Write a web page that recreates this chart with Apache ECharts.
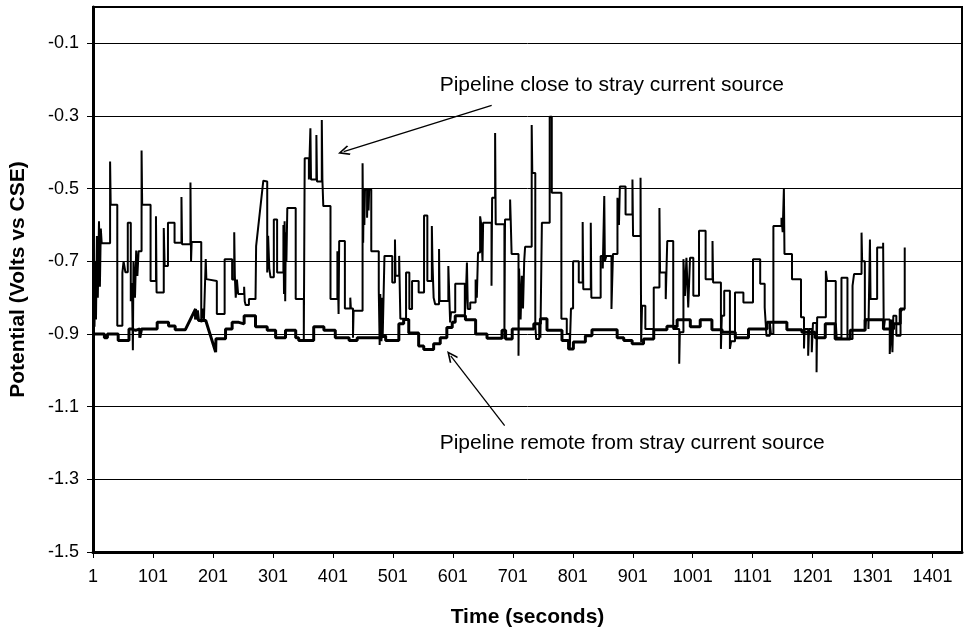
<!DOCTYPE html>
<html>
<head>
<meta charset="utf-8">
<title>Pipeline potential vs time</title>
<script src="https://cdn.jsdelivr.net/npm/echarts@6/dist/echarts.min.js"></script>
<style>
  html, body { margin: 0; padding: 0; background: #fff; }
  #chart { width: 966px; height: 633px; }
</style>
</head>
<body>
<div id="chart"></div>
<script>
// Time axis ticks (seconds) and potential axis ticks (V vs CSE)
const timeTicks = [1, 101, 201, 301, 401, 501, 601, 701, 801, 901, 1001, 1101, 1201, 1301, 1401];
const potentialTicks = [-1.5, -1.3, -1.1, -0.9, -0.7, -0.5, -0.3, -0.1];

// Pipeline close to the stray current source: [time, potential]
const closeSource = [
  [1,-0.90],[2.5,-0.90],[2.5,-0.67],[3.5,-0.67],[3.5,-0.88],[5,-0.88],[5,-0.70],[6,-0.70],[6,-0.86],[7.5,-0.86],
  [7.5,-0.63],[9,-0.63],[9,-0.80],[11,-0.80],[11,-0.59],[12.5,-0.59],[12.5,-0.77],[14,-0.77],[14,-0.61],[15.5,-0.61],
  [15.5,-0.65],[29.5,-0.65],[29.5,-0.425],[30.5,-0.425],[30.5,-0.544],[41.5,-0.544],[41.5,-0.877],[50,-0.877],[50,-0.731],[52,-0.731],
  [52,-0.70],[55,-0.70],[55,-0.73],[59,-0.73],[59,-0.594],[64,-0.594],[64,-0.81],[66,-0.81],[66,-0.76],[67.5,-0.76],
  [67.5,-0.945],[68.5,-0.945],[68.5,-0.70],[71,-0.70],[71,-0.80],[73,-0.80],[73,-0.67],[75,-0.67],[75,-0.74],[77,-0.74],
  [77,-0.672],[82,-0.672],[82,-0.395],[83,-0.395],[83,-0.544],[97,-0.544],[97,-0.754],[106,-0.754],[106,-0.576],[107,-0.576],
  [107,-0.786],[119,-0.786],[119,-0.608],[120.5,-0.608],[120.5,-0.713],[126,-0.713],[126,-0.594],[137,-0.594],[137,-0.649],[148.5,-0.649],
  [148.5,-0.523],[149.5,-0.523],[149.5,-0.653],[163.5,-0.653],[163.5,-0.483],[164.5,-0.483],[164.5,-0.70],[165.5,-0.70],[165.5,-0.647],[181.5,-0.647],
  [181.5,-0.868],[184,-0.868],[184,-0.83],[186,-0.83],[186,-0.86],[189,-0.86],[189,-0.694],[190,-0.694],[190,-0.749],[193,-0.749],
  [193,-0.754],[207.5,-0.754],[207.5,-0.845],[220.5,-0.845],[220.5,-0.694],[233,-0.694],[233,-0.75],[236.5,-0.75],[236.5,-0.62],[237.5,-0.62],
  [237.5,-0.74],[239,-0.74],[239,-0.80],[241,-0.80],[241,-0.75],[243,-0.75],[243,-0.79],[253,-0.79],[253,-0.77],[254,-0.77],
  [254,-0.81],[255.5,-0.81],[255.5,-0.82],[261,-0.82],[261,-0.804],[272,-0.804],[273,-0.658],[285,-0.478],[291.5,-0.48],[291.5,-0.731],
  [293,-0.731],[293,-0.63],[295,-0.63],[295,-0.72],[297,-0.72],[297,-0.744],[302.5,-0.744],[302.5,-0.585],[308,-0.585],[308,-0.731],
  [318.5,-0.731],[318.5,-0.60],[319.5,-0.60],[319.5,-0.79],[320.5,-0.79],[320.5,-0.59],[321.5,-0.59],[321.5,-0.81],[322.5,-0.81],[322.5,-0.62],
  [323.5,-0.62],[323.5,-0.70],[325,-0.70],[325,-0.553],[339,-0.553],[339,-0.804],[352.5,-0.804],[352.5,-0.918],[354,-0.918],[354,-0.416],
  [361,-0.416],[361,-0.475],[363.5,-0.475],[363.5,-0.334],[364.5,-0.334],[364.5,-0.475],[373.5,-0.475],[373.5,-0.352],[374.5,-0.352],[374.5,-0.48],
  [382.5,-0.48],[382.5,-0.311],[383.5,-0.311],[383.5,-0.475],[385,-0.475],[385,-0.548],[397,-0.548],[397,-0.804],[408.5,-0.804],[408.5,-0.672],
  [410.5,-0.672],[410.5,-0.845],[411.5,-0.845],[411.5,-0.644],[421,-0.644],[421,-0.83],[430,-0.83],[430,-0.80],[431,-0.80],[431,-0.83],
  [434.5,-0.83],[434.5,-0.91],[435.5,-0.91],[435.5,-0.836],[450.5,-0.836],[450.5,-0.43],[451.5,-0.43],[451.5,-0.649],[452.5,-0.649],[452.5,-0.50],
  [453.5,-0.50],[453.5,-0.60],[454.5,-0.60],[454.5,-0.502],[458,-0.502],[458,-0.58],[459,-0.58],[459,-0.50],[460.5,-0.50],[460.5,-0.56],
  [461.5,-0.56],[461.5,-0.502],[465,-0.502],[465,-0.672],[477.5,-0.672],[477.5,-0.78],[479,-0.78],[479,-0.93],[480,-0.93],[480,-0.79],
  [482,-0.79],[482,-0.92],[483,-0.92],[483,-0.80],[484,-0.80],[484,-0.91],[487,-0.91],[487,-0.685],[500,-0.685],[500,-0.758],
  [504.5,-0.758],[504.5,-0.64],[505.5,-0.64],[505.5,-0.74],[511.5,-0.74],[511.5,-0.685],[513.5,-0.685],[513.5,-0.858],[523,-0.858],[523,-0.731],
  [528.5,-0.731],[528.5,-0.831],[533,-0.831],[533,-0.754],[544,-0.754],[544,-0.786],[553,-0.786],[553,-0.574],[558.5,-0.574],[558.5,-0.754],
  [566,-0.754],[566,-0.603],[567,-0.603],[567,-0.70],[569,-0.70],[569,-0.80],[571.5,-0.80],[571.5,-0.818],[578,-0.818],[578,-0.666],
  [579,-0.666],[579,-0.809],[593.5,-0.809],[593.5,-0.713],[596.5,-0.713],[596.5,-0.868],[598,-0.868],[598,-0.84],[605,-0.84],[605,-0.762],
  [621,-0.762],[621,-0.85],[623,-0.85],[623,-0.78],[624.5,-0.78],[624.5,-0.703],[626,-0.703],[626,-0.831],[630,-0.831],[630,-0.813],
  [639,-0.813],[639,-0.75],[641,-0.75],[641,-0.80],[643,-0.80],[643,-0.676],[646.5,-0.676],[646.5,-0.576],[648,-0.576],[648,-0.594],
  [650.5,-0.594],[650.5,-0.70],[651.5,-0.70],[651.5,-0.594],[665.5,-0.594],[665.5,-0.767],[666.5,-0.767],[666.5,-0.525],[671.5,-0.525],[671.5,-0.347],
  [672.5,-0.347],[672.5,-0.598],[687,-0.598],[687,-0.914],[688,-0.914],[688,-0.585],[696.5,-0.585],[696.5,-0.53],[697.5,-0.53],[697.5,-0.585],
  [699,-0.585],[699,-0.68],[710.5,-0.68],[710.5,-0.96],[711.5,-0.96],[711.5,-0.72],[714,-0.72],[714,-0.86],[716,-0.86],[716,-0.74],
  [718,-0.74],[718,-0.83],[720,-0.83],[720,-0.70],[721.5,-0.70],[721.5,-0.66],[732.5,-0.66],[732.5,-0.325],[733.5,-0.325],[733.5,-0.457],
  [738.5,-0.457],[738.5,-0.877],[740,-0.877],[740,-0.914],[745,-0.914],[745,-0.87],[747,-0.87],[747,-0.91],[749.5,-0.91],[749.5,-0.594],
  [762.5,-0.594],[762.5,-0.302],[766,-0.302],[766,-0.511],[782,-0.511],[782,-0.858],[791,-0.858],[791,-0.90],[796,-0.90],[796,-0.941],
  [798,-0.941],[798,-0.83],[801.5,-0.83],[801.5,-0.70],[811,-0.70],[811,-0.758],[817.5,-0.758],[817.5,-0.592],[818.5,-0.592],[818.5,-0.777],
  [831,-0.777],[831,-0.594],[832,-0.594],[832,-0.80],[847.5,-0.80],[847.5,-0.685],[851,-0.685],[851,-0.72],[853.5,-0.72],[853.5,-0.52],
  [854.5,-0.52],[854.5,-0.70],[857,-0.70],[857,-0.685],[865.5,-0.685],[865.5,-0.831],[868,-0.831],[868,-0.68],[875.5,-0.68],[875.5,-0.525],
  [878,-0.525],[878,-0.60],[879.5,-0.60],[879.5,-0.494],[889,-0.494],[889,-0.571],[900.5,-0.571],[900.5,-0.475],[901.5,-0.475],[901.5,-0.63],
  [914,-0.63],[914,-0.47],[915,-0.47],[915,-0.922],[916.5,-0.922],[916.5,-0.822],[922,-0.822],[922,-0.886],[936,-0.886],[936,-0.772],
  [945.5,-0.772],[945.5,-0.553],[946.5,-0.553],[946.5,-0.731],[956,-0.731],[956,-0.804],[958.5,-0.804],[958.5,-0.644],[968.5,-0.644],[968.5,-0.886],
  [978.5,-0.886],[978.5,-0.982],[979.5,-0.982],[979.5,-0.895],[985.5,-0.895],[985.5,-0.694],[988,-0.694],[988,-0.795],[990.5,-0.795],[990.5,-0.69],
  [993.5,-0.69],[993.5,-0.827],[996.5,-0.827],[996.5,-0.69],[1002,-0.69],[1002,-0.795],[1011.5,-0.795],[1011.5,-0.616],[1022.5,-0.616],[1022.5,-0.749],
  [1034,-0.749],[1034,-0.644],[1035,-0.644],[1035,-0.758],[1048,-0.758],[1048,-0.941],[1049.5,-0.941],[1049.5,-0.85],[1053.5,-0.85],[1053.5,-0.781],
  [1063,-0.781],[1063,-0.941],[1065,-0.941],[1065,-0.92],[1071.5,-0.92],[1071.5,-0.786],[1085.5,-0.786],[1085.5,-0.813],[1101.5,-0.813],[1101.5,-0.694],
  [1113.5,-0.694],[1113.5,-0.762],[1121,-0.762],[1121,-0.827],[1124,-0.827],[1124,-0.905],[1129.5,-0.905],[1129.5,-0.868],[1131.5,-0.868],[1131.5,-0.90],
  [1135.5,-0.90],[1135.5,-0.603],[1149,-0.603],[1149,-0.58],[1151,-0.58],[1151,-0.62],[1153,-0.62],[1153,-0.50],[1154,-0.50],[1154,-0.68],
  [1166.5,-0.68],[1166.5,-0.749],[1181.5,-0.749],[1181.5,-0.854],[1186.5,-0.854],[1186.5,-0.94],[1187.5,-0.94],[1187.5,-0.886],[1193.5,-0.886],[1193.5,-0.96],
  [1195,-0.96],[1195,-0.886],[1199.5,-0.886],[1199.5,-0.95],[1201.5,-0.95],[1201.5,-0.87],[1207.5,-0.87],[1207.5,-1.005],[1208.5,-1.005],[1208.5,-0.854],
  [1223,-0.854],[1223,-0.726],[1225,-0.726],[1225,-0.754],[1239.5,-0.754],[1239.5,-0.868],[1241,-0.868],[1241,-0.91],[1249,-0.91],[1249,-0.745],
  [1259,-0.745],[1259,-0.914],[1267.5,-0.914],[1267.5,-0.767],[1270,-0.767],[1270,-0.735],[1282.5,-0.735],[1282.5,-0.621],[1283.5,-0.621],[1283.5,-0.70],
  [1288,-0.70],[1288,-0.886],[1290,-0.886],[1290,-0.86],[1294,-0.86],[1294,-0.886],[1296.5,-0.886],[1296.5,-0.64],[1297.5,-0.64],[1297.5,-0.804],
  [1308.5,-0.804],[1308.5,-0.662],[1318.5,-0.662],[1318.5,-0.649],[1319.5,-0.649],[1319.5,-0.888],[1321.5,-0.888],[1321.5,-0.86],[1329.5,-0.86],[1329.5,-0.955],
  [1332.5,-0.955],[1332.5,-0.86],[1334,-0.86],[1334,-0.95],[1335.5,-0.95],[1335.5,-0.85],[1340.5,-0.85],[1340.5,-0.905],[1347.5,-0.905],[1347.5,-0.84],
  [1350.5,-0.84],[1350.5,-0.831],[1354.5,-0.831],[1354.5,-0.662]
];

// Pipeline remote from the stray current source: [time, potential]
const remoteSource = [
  [1,-0.90],[20,-0.90],[20,-0.91],[25,-0.91],[25,-0.90],[43,-0.90],[43,-0.918],[61,-0.918],[61,-0.886],[65,-0.886],
  [65,-0.89],[72,-0.89],[72,-0.886],[79,-0.886],[79,-0.91],[82,-0.91],[82,-0.886],[108,-0.886],[108,-0.868],[127,-0.868],
  [127,-0.878],[138,-0.878],[138,-0.888],[155,-0.888],[172,-0.831],[172,-0.86],[175,-0.86],[175,-0.835],[177,-0.835],[177,-0.863],
  [189,-0.863],[205.5,-0.95],[206,-0.913],[222,-0.913],[222,-0.886],[233,-0.886],[233,-0.868],[244,-0.868],[244,-0.872],[253,-0.872],
  [253,-0.85],[272,-0.85],[272,-0.88],[291.5,-0.88],[291.5,-0.89],[305.5,-0.89],[305.5,-0.91],[322,-0.91],[322,-0.89],[339,-0.89],
  [339,-0.91],[344,-0.91],[344,-0.918],[369,-0.918],[369,-0.88],[386,-0.88],[386,-0.89],[405,-0.89],[405,-0.91],[428,-0.91],
  [428,-0.918],[441.5,-0.918],[441.5,-0.91],[478,-0.91],[478,-0.905],[489,-0.905],[489,-0.918],[511,-0.918],[511,-0.872],[519,-0.872],
  [519,-0.86],[527.5,-0.86],[527.5,-0.897],[544,-0.897],[544,-0.933],[552.5,-0.933],[552.5,-0.943],[569,-0.943],[569,-0.927],[580,-0.927],
  [580,-0.91],[591,-0.91],[591,-0.882],[600,-0.882],[600,-0.868],[605,-0.868],[605,-0.85],[622,-0.85],[622,-0.861],[639,-0.861],
  [639,-0.90],[658,-0.90],[658,-0.912],[683,-0.912],[683,-0.89],[689,-0.89],[689,-0.914],[700,-0.914],[700,-0.886],[736,-0.886],
  [736,-0.872],[747,-0.872],[747,-0.858],[758,-0.858],[758,-0.89],[783,-0.89],[783,-0.918],[794,-0.918],[794,-0.941],[802,-0.941],
  [802,-0.922],[822,-0.922],[822,-0.905],[833,-0.905],[833,-0.888],[875,-0.888],[875,-0.91],[886,-0.91],[886,-0.918],[900,-0.918],
  [900,-0.927],[919,-0.927],[919,-0.914],[936,-0.914],[936,-0.888],[958,-0.888],[958,-0.879],[967,-0.879],[967,-0.88],[975,-0.88],
  [975,-0.861],[997,-0.861],[997,-0.88],[1013.5,-0.88],[1013.5,-0.861],[1033,-0.861],[1033,-0.888],[1050,-0.888],[1050,-0.895],[1072,-0.895],
  [1072,-0.91],[1094,-0.91],[1094,-0.886],[1125,-0.886],[1125,-0.868],[1158,-0.868],[1158,-0.888],[1183,-0.888],[1183,-0.895],[1205,-0.895],
  [1205,-0.91],[1222,-0.91],[1222,-0.872],[1238.5,-0.872],[1238.5,-0.914],[1263.5,-0.914],[1263.5,-0.89],[1288.5,-0.89],[1288.5,-0.861],[1319,-0.861],
  [1319,-0.886],[1336,-0.886],[1336,-0.872],[1347,-0.872],[1347,-0.831],[1355,-0.831]
];

// Callout text and arrow ends, in [time, potential]
const closeLabel = { text: 'Pipeline close to stray current source', at: [579, -0.214] };
const remoteLabel = { text: 'Pipeline remote from stray current source', at: [579, -1.201] };
const closeArrow = [[665.8, -0.271], [419, -0.398]];
const remoteArrow = [[687.4, -1.152], [597.5, -0.960]];

const FONT = '"Liberation Sans", Arial, sans-serif';
const openArrow = 'path://M5,0 L10,9 L8.8,10 L5,3.2 L1.2,10 L0,9 Z';

const chart = echarts.init(document.getElementById('chart'), null, { renderer: 'canvas' });

const option = {
  animation: false,
  backgroundColor: '#ffffff',
  grid: {
    left: 92, top: 7, right: 4, bottom: 79,
    show: true, borderColor: '#000', borderWidth: 2, backgroundColor: 'transparent'
  },
  xAxis: {
    type: 'value',
    min: 1, max: 1450, interval: 100,
    name: 'Time (seconds)',
    nameLocation: 'middle',
    nameGap: 55,
    nameTextStyle: { fontFamily: FONT, fontWeight: 'bold', fontSize: 21, color: '#000' },
    axisLine: { onZero: false, lineStyle: { color: '#000', width: 3 } },
    axisTick: { show: true, length: 6, customValues: timeTicks, lineStyle: { color: '#000', width: 1 } },
    axisLabel: {
      customValues: timeTicks,
      formatter: v => String(v),
      fontFamily: FONT, fontSize: 18, color: '#000', margin: 16
    },
    splitLine: { show: false }
  },
  yAxis: {
    type: 'value',
    min: -1.5, max: 0, interval: 0.2,
    name: 'Potential (Volts vs CSE)',
    nameLocation: 'middle',
    nameRotate: 90,
    nameGap: 64,
    nameTextStyle: { fontFamily: FONT, fontWeight: 'bold', fontSize: 21, color: '#000' },
    axisLine: { onZero: false, lineStyle: { color: '#000', width: 3 } },
    axisTick: { show: true, length: 6, customValues: potentialTicks, lineStyle: { color: '#000', width: 1 } },
    axisLabel: {
      customValues: potentialTicks,
      formatter: v => v.toFixed(1),
      fontFamily: FONT, fontSize: 18, color: '#000', margin: 14
    },
    splitLine: { show: true, lineStyle: { color: '#000', width: 1 } }
  },
  series: [
    {
      name: 'Pipeline close to stray current source',
      type: 'line',
      data: closeSource,
      showSymbol: false,
      lineStyle: { color: '#000', width: 2 },
      itemStyle: { color: '#000' },
      z: 3,
      markLine: {
        silent: true,
        symbol: ['none', openArrow],
        symbolSize: [10, 12],
        label: { show: false },
        lineStyle: { color: '#000', width: 1.3, type: 'solid' },
        data: [
          [{ coord: closeArrow[0] }, { coord: closeArrow[1] }],
          [{ coord: remoteArrow[0] }, { coord: remoteArrow[1] }]
        ]
      }
    },
    {
      name: 'Pipeline remote from stray current source',
      type: 'line',
      data: remoteSource,
      showSymbol: false,
      lineStyle: { color: '#000', width: 3 },
      itemStyle: { color: '#000' },
      z: 4
    }
  ]
};

chart.setOption(option);

// Callout texts placed from their data anchors
function placeLabels() {
  const items = [closeLabel, remoteLabel].map(lbl => {
    const p = chart.convertToPixel({ gridIndex: 0 }, lbl.at);
    return {
      type: 'text',
      x: p[0], y: p[1],
      style: {
        text: lbl.text,
        font: '21px ' + FONT,
        fill: '#000',
        align: 'left',
        verticalAlign: 'middle'
      }
    };
  });
  chart.setOption({ graphic: items });
}
placeLabels();
</script>
</body>
</html>
